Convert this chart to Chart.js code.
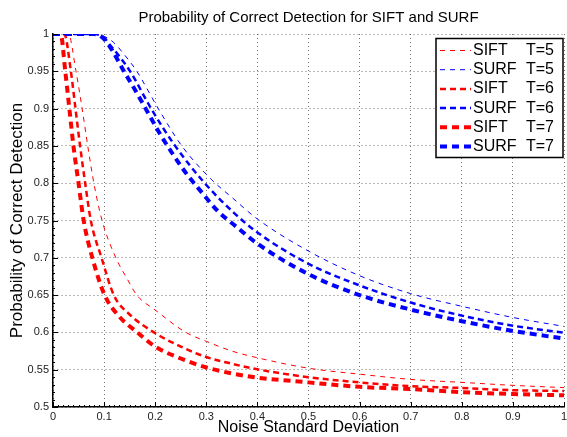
<!DOCTYPE html>
<html>
<head>
<meta charset="utf-8">
<script src="https://cdn.jsdelivr.net/npm/chart.js@4.4.1/dist/chart.umd.min.js"></script>
<style>
html, body { margin: 0; padding: 0; background: #fff; }
#wrap { width: 567px; height: 437px; }
</style>
</head>
<body>
<div id="wrap"><canvas id="chart" width="567" height="437"></canvas></div>
<script>
var FONT = "'Liberation Sans', Arial, Helvetica, sans-serif";

var chartTitle = 'Probability of Correct Detection for SIFT and SURF';
var xTitle = 'Noise Standard Deviation';
var yTitle = 'Probability of Correct Detection';

var xTicks = [0, 0.1, 0.2, 0.3, 0.4, 0.5, 0.6, 0.7, 0.8, 0.9, 1];
var yTicks = [0.5, 0.55, 0.6, 0.65, 0.7, 0.75, 0.8, 0.85, 0.9, 0.95, 1];

var legendNames = ['SIFT', 'SURF', 'SIFT', 'SURF', 'SIFT', 'SURF'];
var legendT = ['T=5', 'T=5', 'T=6', 'T=6', 'T=7', 'T=7'];

// SIFT curves
var sift5Noise = [0, 0.03, 0.045, 0.057, 0.068, 0.08, 0.096, 0.123, 0.145, 0.164, 0.2, 0.26, 0.3, 0.35, 0.4, 0.5, 0.6, 0.7, 0.8, 0.9, 1];
var sift5Prob  = [1, 1, 0.95, 0.9, 0.85, 0.8, 0.75, 0.7, 0.672, 0.65, 0.63, 0.6, 0.588, 0.575, 0.566, 0.552, 0.544, 0.537, 0.533, 0.529, 0.526];

var sift6Noise = [0, 0.022, 0.035, 0.044, 0.053, 0.063, 0.074, 0.095, 0.119, 0.15, 0.2, 0.25, 0.3, 0.35, 0.4, 0.5, 0.6, 0.7, 0.8, 0.9, 1];
var sift6Prob  = [1, 1, 0.95, 0.9, 0.85, 0.8, 0.75, 0.7, 0.65, 0.624, 0.599, 0.581, 0.567, 0.558, 0.5505, 0.54, 0.533, 0.528, 0.5255, 0.5225, 0.5215];

var sift7Noise = [0, 0.015, 0.024, 0.032, 0.04, 0.05, 0.06, 0.077, 0.101, 0.13, 0.165, 0.2, 0.25, 0.3, 0.35, 0.4, 0.5, 0.6, 0.7, 0.8, 0.9, 1];
var sift7Prob  = [1, 1, 0.95, 0.9, 0.85, 0.8, 0.75, 0.7, 0.65, 0.621, 0.6, 0.581, 0.565, 0.553, 0.545, 0.5394, 0.533, 0.527, 0.524, 0.52, 0.5174, 0.5157];

// SURF curves
var surf5Noise = [0, 0.085, 0.1, 0.118, 0.14, 0.164, 0.206, 0.252, 0.31, 0.35, 0.4, 0.5, 0.6, 0.7, 0.8, 0.9, 1];
var surf5Prob  = [1, 1, 0.997, 0.989, 0.972, 0.95, 0.9, 0.85, 0.805, 0.781, 0.752, 0.709, 0.676, 0.652, 0.635, 0.62, 0.608];

var surf6Noise = [0, 0.082, 0.1, 0.112, 0.13, 0.151, 0.192, 0.239, 0.297, 0.353, 0.4, 0.5, 0.6, 0.7, 0.8, 0.9, 1];
var surf6Prob  = [1, 1, 0.995, 0.985, 0.97, 0.95, 0.9, 0.85, 0.8, 0.761, 0.734, 0.692, 0.663, 0.64, 0.6225, 0.609, 0.5997];

var surf7Noise = [0, 0.08, 0.099, 0.115, 0.138, 0.161, 0.185, 0.209, 0.233, 0.262, 0.292, 0.321, 0.36, 0.4, 0.5, 0.6, 0.7, 0.8, 0.9, 1];
var surf7Prob  = [1, 1, 0.994, 0.979, 0.951, 0.9245, 0.8955, 0.8665, 0.8405, 0.812, 0.787, 0.7637, 0.741, 0.719, 0.678, 0.65, 0.6306, 0.615, 0.602, 0.5917];

function pairs(xs, ys) {
    return xs.map(function(x, i) { return {x: x, y: ys[i]}; });
}

function fmt(v) {
    return String(Math.round(v * 100) / 100);
}

var red = 'rgb(255, 0, 0)';
var blue = 'rgb(0, 0, 255)';

var series = [
    {data: pairs(sift5Noise, sift5Prob), color: red,  width: 1,   dash: [5, 5]},
    {data: pairs(surf5Noise, surf5Prob), color: blue, width: 1,   dash: [5, 5]},
    {data: pairs(sift6Noise, sift6Prob), color: red,  width: 2.5, dash: [6, 4]},
    {data: pairs(surf6Noise, surf6Prob), color: blue, width: 2.5, dash: [6, 4]},
    {data: pairs(sift7Noise, sift7Prob), color: red,  width: 4,   dash: [7, 5]},
    {data: pairs(surf7Noise, surf7Prob), color: blue, width: 4,   dash: [7, 5]}
];

var datasets = series.map(function(s, i) {
    return {
        label: legendNames[i] + ' ' + legendT[i],
        data: s.data,
        borderColor: s.color,
        backgroundColor: s.color,
        borderWidth: s.width,
        borderDash: s.dash,
        pointRadius: 0,
        fill: false,
        cubicInterpolationMode: 'monotone',
        order: 6 - i
    };
});

// title drawn over the plot area centre, like matlab does
var titlePlugin = {
    id: 'plotTitle',
    afterDraw(chart) {
        var ctx = chart.ctx;
        var a = chart.chartArea;
        ctx.save();
        ctx.fillStyle = '#000';
        ctx.font = '15px ' + FONT;
        ctx.textAlign = 'center';
        ctx.textBaseline = 'middle';
        ctx.fillText(chartTitle, (a.left + a.right) / 2, 18);
        ctx.restore();
    }
};

// inward major + minor ticks on left and bottom axes
var tickPlugin = {
    id: 'inTicks',
    afterDraw(chart) {
        var ctx = chart.ctx;
        var a = chart.chartArea;
        var xs = chart.scales.x, ys = chart.scales.y;
        ctx.save();
        ctx.strokeStyle = '#000';
        ctx.lineWidth = 1;
        ctx.beginPath();
        for (var i = 0; i <= 100; i++) {
            var px = Math.round(xs.getPixelForValue(i / 100)) + 0.5;
            var len = (i % 10 === 0) ? 5 : 2;
            ctx.moveTo(px, a.bottom);
            ctx.lineTo(px, a.bottom - len);
        }
        for (var j = 0; j <= 50; j++) {
            var py = Math.round(ys.getPixelForValue(0.5 + j / 100)) + 0.5;
            var l2 = (j % 5 === 0) ? 5 : 2;
            ctx.moveTo(a.left, py);
            ctx.lineTo(a.left + l2, py);
        }
        ctx.stroke();
        ctx.restore();
    }
};

var legendPlugin = {
    id: 'boxLegend',
    afterDraw(chart) {
        var ctx = chart.ctx;
        var left = 436, top = 38.5, w = 127, h = 119;
        ctx.save();
        ctx.fillStyle = '#fff';
        ctx.fillRect(left, top, w, h);
        ctx.strokeStyle = '#000';
        ctx.lineWidth = 1.5;
        ctx.strokeRect(left, top, w, h);
        ctx.font = '16px ' + FONT;
        ctx.textBaseline = 'middle';
        ctx.fillStyle = '#000';
        chart.data.datasets.forEach(function(ds, i) {
            var y = 50.5 + i * 19.2;
            ctx.save();
            ctx.strokeStyle = ds.borderColor;
            ctx.lineWidth = ds.borderWidth;
            ctx.setLineDash(ds.borderDash);
            ctx.beginPath();
            ctx.moveTo(440, y);
            ctx.lineTo(471, y);
            ctx.stroke();
            ctx.restore();
            ctx.fillText(legendNames[i], 473, y);
            ctx.fillText(legendT[i], 526, y);
        });
        ctx.restore();
    }
};

var gridStyle = {
    color: 'rgba(0, 0, 0, 0.55)',
    lineWidth: 1,
    drawTicks: false
};

var ctx = document.getElementById('chart').getContext('2d');
var chart = new Chart(ctx, {
    type: 'line',
    data: {datasets: datasets},
    options: {
        responsive: false,
        animation: false,
        devicePixelRatio: 1,
        layout: {padding: {top: 34, right: 0, left: 0, bottom: 0}},
        plugins: {
            legend: {display: false},
            title: {display: false},
            tooltip: {enabled: false}
        },
        scales: {
            x: {
                type: 'linear',
                min: 0,
                max: 1,
                afterFit: function(s) { s.height = 30; s.paddingRight = 3; },
                afterBuildTicks: function(s) { s.ticks = xTicks.map(function(v) { return {value: v}; }); },
                ticks: {
                    callback: function(v) { return fmt(v); },
                    font: {family: FONT, size: 11},
                    color: '#222',
                    padding: 3,
                    maxRotation: 0
                },
                grid: gridStyle,
                border: {display: true, color: '#000', width: 1.5, dash: [1, 3]},
                title: {
                    display: true,
                    text: xTitle,
                    font: {family: FONT, size: 16},
                    color: '#000',
                    padding: {top: 0, bottom: 0}
                }
            },
            y: {
                type: 'linear',
                min: 0.5,
                max: 1,
                afterFit: function(s) { s.width = 53; },
                afterBuildTicks: function(s) { s.ticks = yTicks.map(function(v) { return {value: v}; }); },
                ticks: {
                    callback: function(v) { return fmt(v); },
                    font: {family: FONT, size: 11},
                    color: '#222',
                    padding: 4
                },
                grid: gridStyle,
                border: {display: true, color: '#000', width: 1.5, dash: [1, 3]},
                title: {
                    display: true,
                    text: yTitle,
                    font: {family: FONT, size: 17},
                    color: '#000',
                    padding: {top: 7, bottom: 0}
                }
            }
        }
    },
    plugins: [titlePlugin, tickPlugin, legendPlugin]
});
</script>
</body>
</html>
